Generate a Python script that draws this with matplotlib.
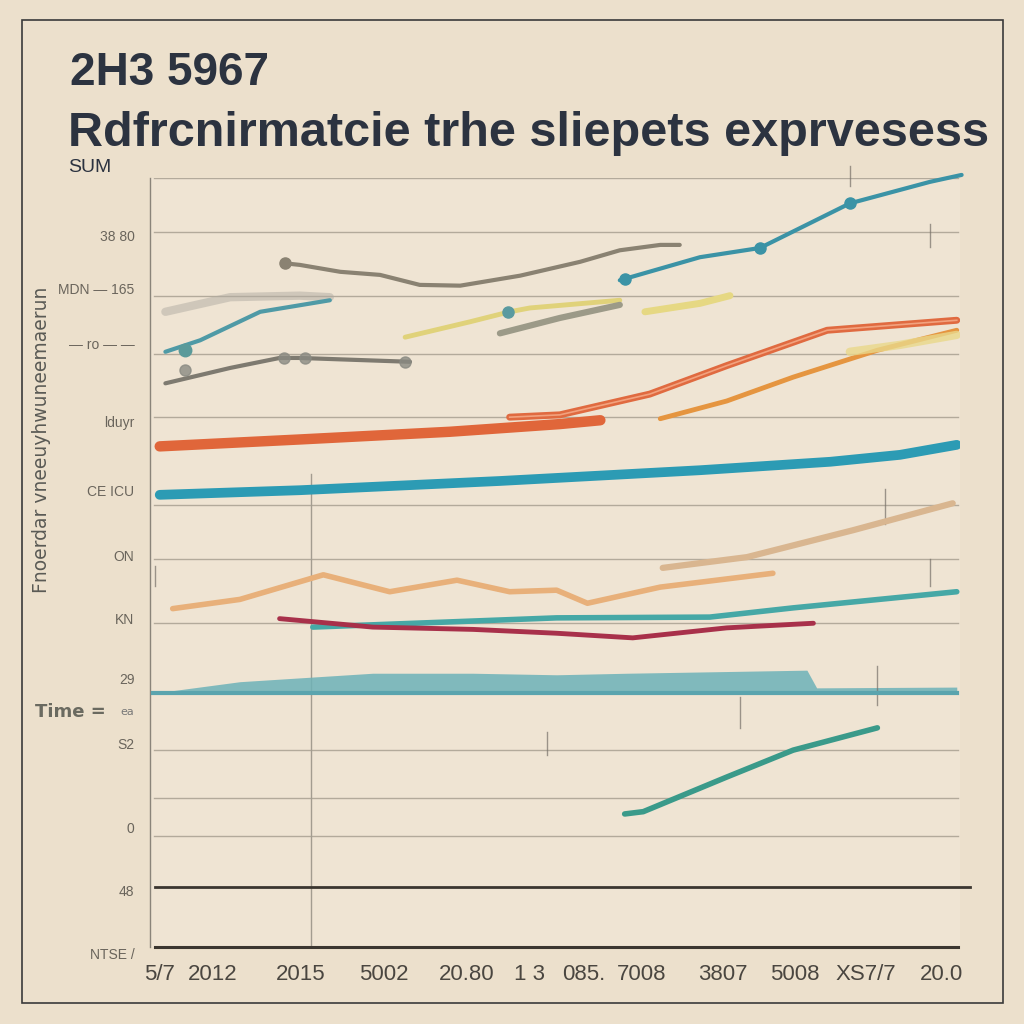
import numpy as np
import matplotlib
matplotlib.use('Agg')
from matplotlib import pyplot as plt
from matplotlib.patches import Rectangle

# ---- data (x: 0..10 across the plot, y: 0..100 bottom to top) ----
teal_top_x = [5.80, 6.79, 7.53, 8.64, 9.63, 10.02]
teal_top_y = [86.7, 89.7, 90.9, 96.7, 99.5, 100.4]

brown_x = [1.67, 1.85, 2.35, 2.84, 3.33, 3.83, 4.57, 5.31, 5.80, 6.30, 6.54]
brown_y = [88.9, 88.7, 87.8, 87.4, 86.1, 86.0, 87.3, 89.1, 90.6, 91.3, 91.3]

faint_x = [0.19, 0.99, 1.85, 2.22]
faint_y = [82.6, 84.5, 84.7, 84.5]

teal_small_x = [0.19, 0.62, 1.36, 2.22]
teal_small_y = [77.4, 78.9, 82.6, 84.1]

gray_x = [0.19, 0.99, 1.60, 1.85, 3.21]
gray_y = [73.3, 75.3, 76.6, 76.6, 76.1]

yellow_x = [3.15, 3.95, 4.44, 4.69, 5.80]
yellow_y = [79.3, 81.3, 82.6, 83.1, 84.1]

olive_x = [4.32, 5.06, 5.80]
olive_y = [79.8, 81.8, 83.5]

yellow2_x = [6.11, 6.79, 7.16]
yellow2_y = [82.6, 83.7, 84.7]

orange_x = [0.12, 1.85, 3.70, 5.06, 5.56]
orange_y = [65.1, 66.0, 67.0, 68.0, 68.5]

red_x = [4.44, 5.06, 6.17, 7.12, 8.36, 9.96]
red_y = [68.9, 69.2, 71.9, 75.6, 80.2, 81.5]

amber_x = [6.30, 7.12, 7.94, 8.98, 9.96]
amber_y = [68.7, 71.0, 74.1, 77.6, 80.2]

pale_x = [8.64, 9.26, 9.96]
pale_y = [77.4, 78.3, 79.6]

blue_x = [0.12, 1.85, 4.32, 6.79, 8.40, 9.26, 9.96]
blue_y = [58.8, 59.4, 60.6, 62.0, 63.1, 64.0, 65.3]

peach_x = [0.28, 1.11, 2.14, 2.96, 3.79, 4.44, 5.02, 5.40, 6.30, 7.69]
peach_y = [44.0, 45.2, 48.4, 46.2, 47.7, 46.2, 46.4, 44.7, 46.8, 48.6]

tan_x = [6.33, 7.37, 8.68, 9.91]
tan_y = [49.3, 50.7, 54.2, 57.7]

green_x = [2.01, 5.02, 6.91, 7.94, 9.96]
green_y = [41.6, 42.8, 42.9, 44.1, 46.2]

crimson_x = [1.60, 2.75, 3.99, 5.02, 5.96, 7.12, 8.19]
crimson_y = [42.7, 41.6, 41.3, 40.8, 40.2, 41.5, 42.1]

area_x = [0.04, 1.11, 2.75, 3.99, 5.02, 5.89, 8.11, 8.23, 9.96]
area_top = [33.0, 34.5, 35.6, 35.6, 35.4, 35.6, 36.0, 33.7, 33.8]
area_base = 33.0

lower_x = [5.86, 6.09, 7.12, 7.94, 8.98]
lower_y = [17.3, 17.6, 22.1, 25.6, 28.5]

grid_y = [100, 93.0, 84.7, 77.1, 68.9, 57.5, 50.5, 42.1, 25.6, 19.4, 14.4]
base_y = 7.8

ytick_pos = [92.3, 85.4, 78.3, 68.1, 59.2, 50.7, 42.5, 34.7, 26.3, 15.3, 7.2, -1.0]
ytick_lab = ['38 80', 'MDN — 165', '— ro — —', 'lduyr', 'CE ICU', 'ON', 'KN',
             '29', 'S2', '0', '48', 'NTSE /']

xtick_pos = [0.12, 0.77, 1.86, 2.89, 3.91, 4.69, 5.36, 6.07, 7.07, 7.96, 8.84, 9.77]
xtick_lab = ['5/7', '2012', '2015', '5002', '20.80', '1 3', '085.', '7008',
             '3807', '5008', 'XS7/7', '20.0']

fig = plt.figure(figsize=(10.24, 10.24), dpi=100)
fig.patch.set_facecolor('#ece0cc')
fig.patches.append(Rectangle((22/1024, 21/1024), 981/1024, 983/1024, transform=fig.transFigure,
                             fill=False, edgecolor='#3a3a3a', lw=1.2))

ax = fig.add_axes([150/1024, 77/1024, 810/1024, 769/1024])
ax.set_facecolor('#efe4d3')
ax.set_xlim(0, 10)
ax.set_ylim(0, 100)
for s in ax.spines.values():
    s.set_visible(False)
ax.set_xticks([])
ax.set_yticks([])
ax.plot([0, 0], [0, 100], color='#8a847a', lw=1.0, clip_on=False)

for gy in grid_y:
    ax.plot([0.05, 9.98], [gy, gy], color='#b3aa9b', lw=1.0, zorder=1)
ax.plot([1.99, 1.99], [0, 61.5], color='#a39c90', lw=1.0, zorder=1)
ax.plot([0.06, 10.12], [base_y, base_y], color='#3b3630', lw=2.0, clip_on=False)
ax.plot([0.06, 9.98], [0, 0], color='#3b3630', lw=2.2, clip_on=False)

# faint pencil ticks
for tx, y0, y1 in [(8.64, 99, 101.5), (9.63, 91, 94), (9.63, 47, 50.5), (9.07, 55, 59.5),
                   (7.28, 28.5, 32.5), (8.98, 31.5, 36.5), (0.06, 47, 49.5), (4.9, 25, 28)]:
    ax.plot([tx, tx], [y0, y1], color='#777068', lw=1.0, alpha=0.7, clip_on=False)

# series
ax.plot(faint_x, faint_y, color='#b0aba2', lw=6, alpha=0.5, solid_capstyle='round')
ax.plot(brown_x, brown_y, color='#8a8272', lw=3, solid_capstyle='round')
ax.plot([1.67], [88.9], 'o', color='#8a8272', ms=8)
ax.plot(teal_small_x, teal_small_y, color='#4f9aa6', lw=3, solid_capstyle='round')
ax.plot([0.43], [77.6], 'o', color='#5a9a9a', ms=9)
ax.plot(gray_x, gray_y, color='#7e7a70', lw=3, solid_capstyle='round')
ax.plot([0.43, 1.66, 1.91, 3.15], [75.0, 76.6, 76.6, 76.1], 'o',
        color='#8a8a82', ms=8, alpha=0.8)
ax.plot(yellow_x, yellow_y, color='#e0d27a', lw=3.5, solid_capstyle='round')
ax.plot(olive_x, olive_y, color='#9c9a88', lw=4.5, solid_capstyle='round')
ax.plot([4.42], [82.6], 'o', color='#5a9aa0', ms=8)
ax.plot(yellow2_x, yellow2_y, color='#e6d883', lw=5, solid_capstyle='round')
ax.plot(teal_top_x, teal_top_y, color='#3b93a6', lw=3, solid_capstyle='round', clip_on=False)
ax.plot([5.86, 7.53, 8.64], [86.9, 90.9, 96.7], 'o', color='#3b93a6', ms=8)

ax.plot(tan_x, tan_y, color='#d9b690', lw=4.5, solid_capstyle='round')
ax.plot(amber_x, amber_y, color='#e59540', lw=3.5, solid_capstyle='round')
ax.plot(pale_x, pale_y, color='#e9d88a', lw=6, alpha=0.8, solid_capstyle='round')
ax.plot(orange_x, orange_y, color='#e0663a', lw=7.5, solid_capstyle='round')
ax.plot(red_x, red_y, color='#e06a40', lw=5, solid_capstyle='round')
ax.plot(red_x, red_y, color='#f2a27e', lw=1.2)
ax.plot(blue_x, blue_y, color='#2c9bb4', lw=7, solid_capstyle='round')

ax.plot(peach_x, peach_y, color='#e8b07a', lw=4, solid_capstyle='round')
ax.plot(green_x, green_y, color='#46a8a6', lw=4, solid_capstyle='round')
ax.plot(crimson_x, crimson_y, color='#a8304a', lw=3.5, solid_capstyle='round')
ax.fill_between(area_x, area_base, area_top, color='#6db2b8', alpha=0.85, lw=0)
ax.plot([0.04, 9.96], [area_base, area_base], color='#5aa4ae', lw=3)
ax.plot(lower_x, lower_y, color='#3a9a8a', lw=4, solid_capstyle='round')

# y tick labels
for yp, lab in zip(ytick_pos, ytick_lab):
    ax.text(-0.19, yp, lab, ha='right', va='center', fontsize=10, color='#6a655c',
            family='Liberation Sans', clip_on=False)
ax.text(-0.55, 30.6, 'Time =', ha='right', va='center', fontsize=13, color='#6a6a60',
        family='DejaVu Sans', fontweight='bold', clip_on=False)
ax.text(-0.19, 30.6, 'ea', ha='right', va='center', fontsize=8, color='#777',
        clip_on=False)

# x tick labels
for xp, lab in zip(xtick_pos, xtick_lab):
    ax.text(xp, -3.6, lab, ha='center', va='center', fontsize=16, color='#4a4640',
            family='Liberation Sans', clip_on=False)

# axis label
fig.text(42/1024, 1 - 440/1024, 'Fnoerdar vneeuyhwuneemaerun', rotation=90,
         ha='center', va='center', fontsize=13.5, color='#5a5a55', family='DejaVu Sans')

# titles
fig.text(70/1024, 1 - 73/1024, '2H3 5967', ha='left', va='center', fontsize=33,
         fontweight='bold', color='#2c3340', family='Liberation Sans')
fig.text(68/1024, 1 - 134/1024, 'Rdfrcnirmatcie trhe sliepets exprvesess', ha='left',
         va='center', fontsize=35, fontweight='bold', color='#2c3340', family='Liberation Sans')
fig.text(68/1024, 1 - 168/1024, 'SUM', ha='left', va='center', fontsize=14,
         color='#2c3340', family='Liberation Sans')

fig.savefig('out.png', dpi=100, facecolor=fig.get_facecolor())
